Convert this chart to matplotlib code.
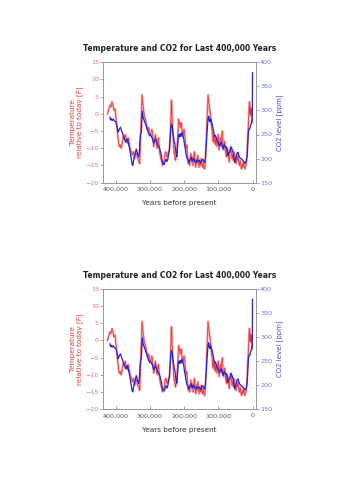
import matplotlib.pyplot as plt

# Temperature (F, relative to today) vs thousands of years before present
temp_kyr = [424, 420, 417, 414, 411, 408, 405, 402, 400, 397, 395, 392, 390, 387, 384,
            381, 378, 375, 372, 369, 366, 363, 360, 357, 354, 351, 348, 345, 342, 339,
            336, 333, 330, 328, 326, 324, 323, 321, 319, 317, 315, 312, 309, 306, 303,
            300, 297, 294, 291, 289, 286, 284, 281, 279, 277, 275, 273, 271, 268, 265,
            263, 261, 258, 256, 253, 250, 248, 245, 243, 241, 239, 237, 235, 233, 231,
            229, 227, 225, 223, 221, 219, 217, 216, 214, 212, 210, 208, 206, 204, 202,
            200, 198, 196, 194, 192, 190, 188, 186, 184, 182, 180, 178, 176, 174, 172,
            170, 168, 166, 164, 162, 160, 158, 156, 154, 152, 150, 148, 146, 144, 142,
            140, 138, 136, 134, 132, 130, 128, 126, 124, 122, 120, 118, 116, 114, 112,
            110, 108, 106, 104, 102, 100, 98, 96, 94, 92, 90, 88, 86, 84, 82,
            80, 78, 76, 74, 72, 70, 68, 66, 64, 62, 60, 58, 56, 54, 52,
            50, 48, 46, 44, 42, 40, 38, 36, 34, 32, 30, 28, 26, 24, 22,
            20, 18, 16, 15, 13, 12, 11, 10, 9, 8, 7, 6, 5, 4, 3,
            2, 1, 0]
temp_f = [0.0, 1.5, 2.5, 2.0, 3.5, 2.5, 1.0, 1.5, -0.5, -3.0, -5.5, -8.0, -9.5, -9.0, -10.0,
          -8.5, -6.5, -7.5, -6.0, -8.0, -8.5, -7.0, -9.0, -10.5, -11.0, -12.0, -11.0, -13.0, -12.0, -11.5,
          -13.0, -13.5, -14.5, -9.5, -2.5, 3.0, 5.5, 3.5, 1.5, 0.0, -1.0, -2.0, -3.5, -5.0, -4.0,
          -6.5, -5.5, -4.5, -7.0, -9.5, -7.5, -6.0, -8.5, -10.0, -8.0, -7.0, -9.5, -11.5, -13.0, -14.0,
          -15.0, -14.0, -13.5, -11.5, -11.0, -12.5, -12.0, -11.0, -10.5, -7.0, -2.0, 4.0, -1.0, -5.0, -9.5,
          -11.5, -12.5, -13.5, -12.0, -10.0, -7.5, -3.5, -1.5, -3.0, -2.5, -4.0, -2.5, -5.0, -6.5, -5.0,
          -4.5, -6.0, -8.5, -10.0, -9.0, -12.5, -14.5, -13.0, -15.0, -13.0, -11.5, -14.0, -12.5, -15.0, -13.0,
          -11.0, -13.5, -15.5, -13.0, -14.5, -12.0, -14.0, -15.5, -13.5, -15.0, -13.0, -14.5, -15.5, -14.0, -15.5,
          -16.0, -14.0, -10.0, -4.0, 1.0, 5.5, 3.5, 2.0, 0.5, -1.5, -3.5, -5.0, -8.0, -6.0, -8.5,
          -6.5, -9.0, -7.0, -9.5, -7.5, -6.0, -10.5, -8.0, -7.0, -9.5, -6.0, -5.0, -9.0, -10.5, -8.0,
          -9.5, -11.5, -12.5, -10.0, -10.5, -12.5, -14.0, -11.5, -9.5, -10.5, -13.0, -12.0, -13.5, -11.0, -12.0,
          -14.0, -14.5, -12.5, -13.5, -12.0, -14.0, -15.0, -13.5, -15.0, -16.0, -14.5, -15.5, -14.0, -15.5, -16.0,
          -15.0, -14.5, -12.0, -9.0, -5.0, -3.5, -1.0, 1.0, 3.5, 0.0, 2.0, -0.5, 1.0, 0.0, 1.5,
          -0.5, -1.5, -2.5]

# CO2 (ppm) vs thousands of years before present
co2_kyr = [417, 415, 413, 410, 407, 404, 401, 398, 395, 393, 391, 389, 386, 383, 380,
           377, 374, 371, 368, 366, 363, 361, 358, 355, 352, 350, 348, 345, 342, 340,
           338, 336, 333, 331, 329, 327, 325, 323, 322, 320, 318, 316, 313, 310, 307,
           304, 301, 298, 295, 292, 289, 287, 284, 281, 278, 275, 272, 269, 266, 264,
           261, 258, 256, 253, 250, 248, 245, 243, 241, 239, 237, 235, 233, 231, 229,
           227, 225, 223, 221, 219, 217, 215, 213, 211, 209, 207, 205, 203, 201, 199,
           197, 195, 193, 191, 189, 186, 184, 181, 179, 177, 175, 172, 170, 168, 165,
           162, 160, 157, 155, 152, 150, 148, 145, 143, 140, 138, 136, 134, 132, 130,
           128, 126, 124, 122, 120, 118, 116, 114, 112, 110, 108, 106, 104, 101, 98,
           96, 93, 91, 88, 86, 83, 81, 78, 76, 74, 72, 70, 67, 65, 62,
           60, 57, 55, 52, 50, 47, 45, 42, 40, 37, 34, 32, 29, 27, 24,
           22, 20, 18, 16, 15, 13, 12, 10, 8, 6, 4, 3, 2, 1, 0.5,
           0.2, 0]
co2_ppm = [286, 280, 283, 279, 282, 278, 277, 272, 262, 255, 258, 262, 265, 258, 252,
           246, 240, 234, 238, 241, 232, 226, 215, 202, 188, 186, 195, 204, 214, 220,
           215, 210, 203, 214, 240, 252, 255, 290, 298, 285, 282, 277, 272, 265, 259,
           252, 248, 250, 245, 240, 232, 235, 241, 236, 229, 226, 222, 214, 206, 194,
           189, 188, 193, 199, 194, 198, 210, 218, 240, 262, 272, 268, 255, 246, 236,
           230, 218, 208, 204, 225, 246, 250, 245, 252, 246, 252, 254, 246, 240, 230,
           222, 212, 205, 200, 198, 192, 195, 200, 203, 197, 195, 200, 198, 193, 192,
           197, 195, 194, 196, 191, 192, 197, 199, 195, 192, 200, 220, 245, 265, 283,
           288, 278, 276, 283, 276, 272, 265, 258, 250, 246, 248, 243, 238, 234, 228,
           227, 232, 234, 226, 220, 228, 227, 222, 224, 214, 206, 212, 213, 218, 224,
           220, 213, 204, 192, 198, 206, 212, 213, 206, 202, 200, 199, 197, 195, 193,
           190, 192, 195, 205, 215, 240, 255, 262, 262, 268, 272, 276, 278, 283, 300,
           330, 378]

x_ticks = [400, 300, 200, 100, 0]
x_ticklabels = ["400,000", "300,000", "200,000", "100,000", "0"]
temp_ticks = [15, 10, 5, 0, -5, -10, -15, -20]
co2_ticks = [400, 350, 300, 250, 200, 150]

title = "Temperature and CO2 for Last 400,000 Years"

fig = plt.figure(figsize=(3.53, 5.0), dpi=100)


def draw_chart(bottom):
    ax = fig.add_axes([0.292, bottom, 0.433, 0.241])
    ax2 = ax.twinx()

    # pale wide trace with a thin red core, like the original
    ax.plot(temp_kyr, temp_f, color='#f38a8a', lw=1.5, alpha=0.8)
    ax.plot(temp_kyr, temp_f, color='#e81010', lw=0.5, alpha=0.75)
    ax2.plot(co2_kyr, co2_ppm, color='#2222e0', lw=0.9)

    ax.set_xlim(437, -10)
    ax.set_ylim(-20, 15)
    ax2.set_ylim(150, 400)

    ax.set_xticks(x_ticks)
    ax.set_xticklabels(x_ticklabels)
    ax.set_yticks(temp_ticks)
    ax2.set_yticks(co2_ticks)

    for a in (ax, ax2):
        for s in a.spines.values():
            s.set_color('#9a9a9a')
            s.set_linewidth(0.7)
    ax.tick_params(axis='x', direction='in', length=2, width=0.6, color='#888888',
                   labelsize=4.6, labelcolor='#555555', pad=3)
    ax.tick_params(axis='y', direction='out', length=2, width=0.6, color='#999999',
                   labelsize=4.6, labelcolor='#ee7070', pad=1)
    ax2.tick_params(axis='y', direction='out', length=2, width=0.6, color='#999999',
                    labelsize=4.6, labelcolor='#7070ee', pad=1)

    ax.set_title(title, fontsize=5.5, fontweight='semibold', color='#222222', pad=8)
    ax.set_xlabel("Years before present", fontsize=5.2, color='#333333', labelpad=6)
    ax.set_ylabel("Temperature\nrelative to today [F]", fontsize=5.2, color='#e83c3c',
                  labelpad=2, linespacing=1.0)
    ax2.set_ylabel("CO2 level [ppm]", fontsize=5.0, color='#4a4ad8', labelpad=3)


draw_chart(0.6346)
draw_chart(0.1814)

fig.savefig("out.png", dpi=100, facecolor='white')
